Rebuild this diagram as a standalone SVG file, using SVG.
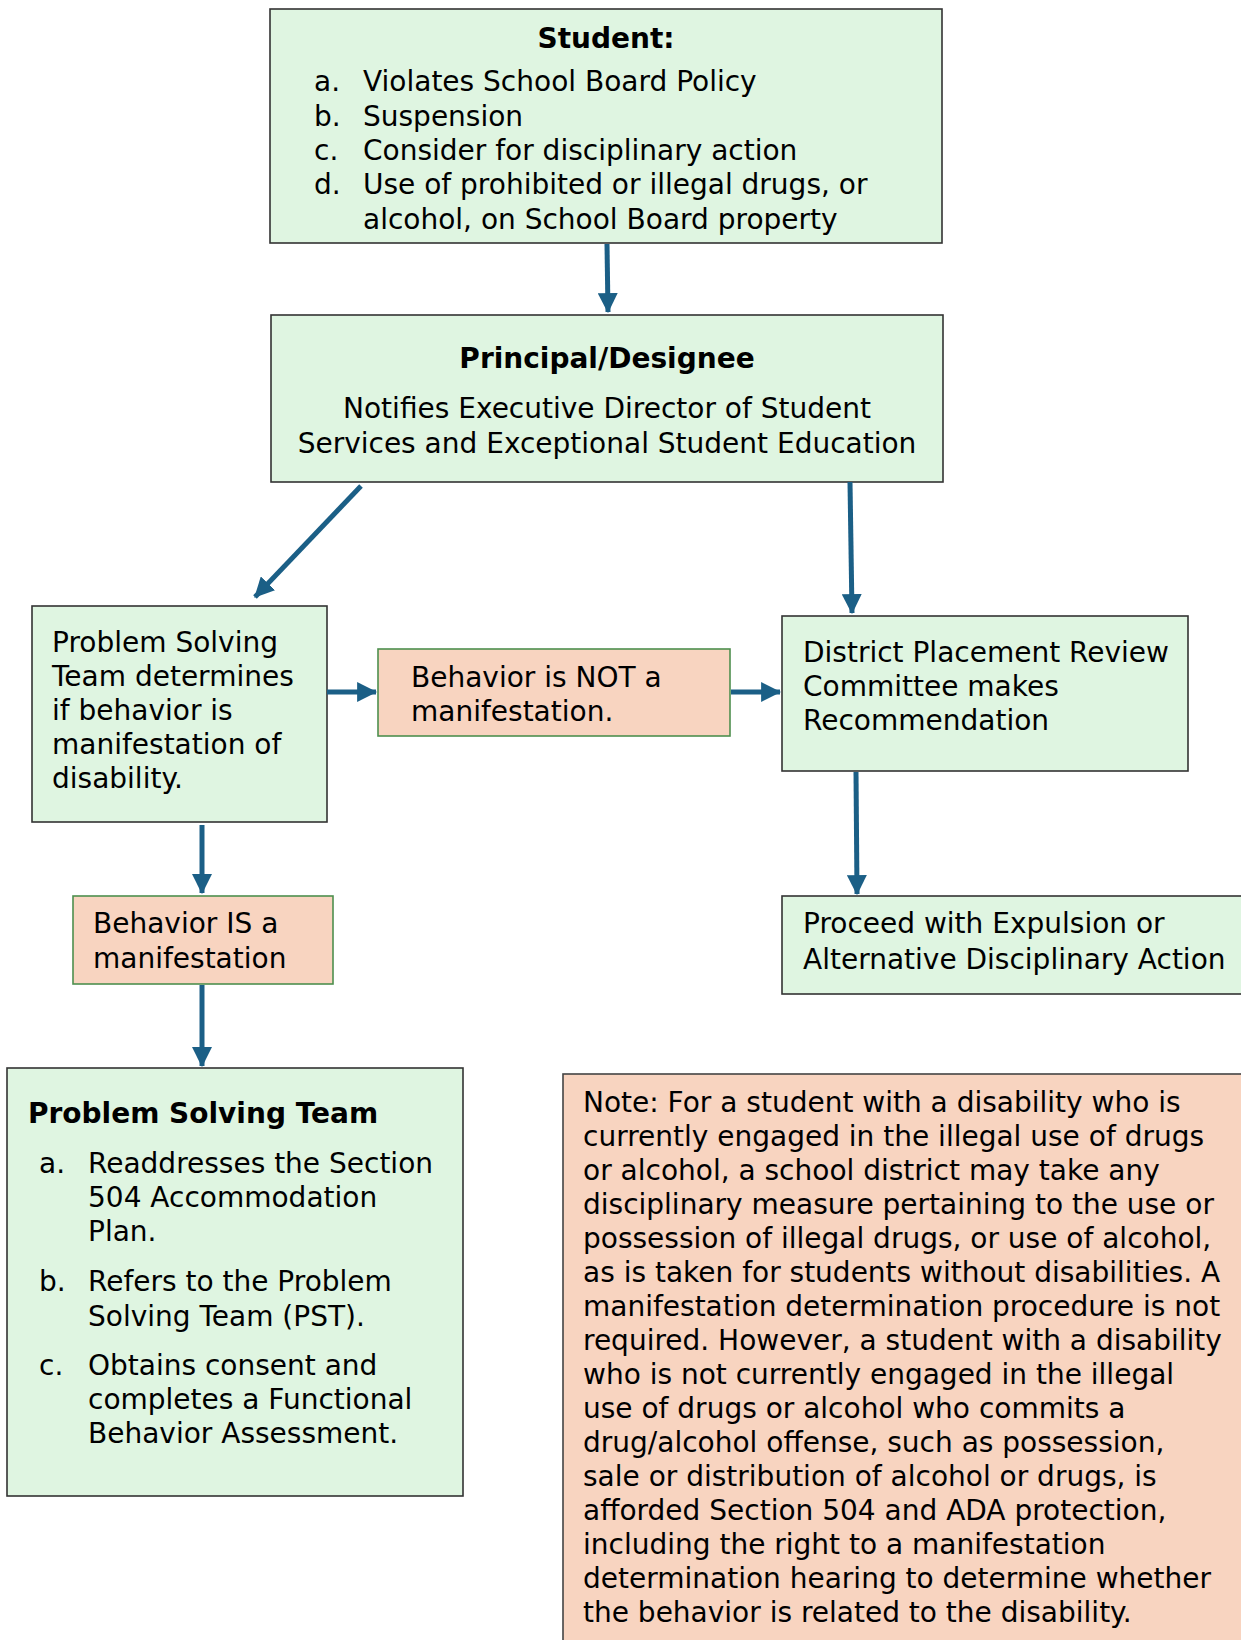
<svg xmlns="http://www.w3.org/2000/svg" width="1241" height="1640" viewBox="0 0 1241 1640">
<style>
text{font-family:"DejaVu Sans",Verdana,sans-serif;font-size:28px;fill:#000}
.b{font-weight:bold}
.g{fill:#DFF5E1;stroke:#333;stroke-width:1.6}
.p{fill:#F8D4C0;stroke:#4E8F4E;stroke-width:1.6}
.n{fill:#F8D4C0;stroke:#444;stroke-width:1.6}
.c{stroke:#1B5F86;stroke-width:5;fill:none}
</style>
<defs>
<marker id="ah" markerUnits="userSpaceOnUse" markerWidth="20" markerHeight="20" viewBox="0 0 18 18" refX="17" refY="9" orient="auto">
<path d="M0,0 L18,9 L0,18 Z" fill="#1B5F86"/>
</marker>
</defs>
<rect width="1241" height="1640" fill="#fff"/>
<g id="student">
<rect class="g" x="270" y="9" width="672" height="234"/>
<text class="b" x="606" y="48" text-anchor="middle">Student:</text>
<text x="314" y="91">a.</text><text x="363" y="91">Violates School Board Policy</text>
<text x="314" y="125.5">b.</text><text x="363" y="125.5">Suspension</text>
<text x="314" y="160">c.</text><text x="363" y="160">Consider for disciplinary action</text>
<text x="314" y="194">d.</text><text x="363" y="194">Use of prohibited or illegal drugs, or</text>
<text x="363" y="229">alcohol, on School Board property</text>
</g>
<g id="principal">
<rect class="g" x="271" y="315" width="672" height="167"/>
<text class="b" x="607" y="368" text-anchor="middle">Principal/Designee</text>
<text x="607" y="418" text-anchor="middle">Notifies Executive Director of Student</text>
<text x="607" y="453" text-anchor="middle">Services and Exceptional Student Education</text>
</g>
<g id="pst-determines">
<rect class="g" x="32" y="606" width="295" height="216"/>
<text x="52" y="652">Problem Solving</text>
<text x="52" y="686">Team determines</text>
<text x="52" y="720">if behavior is</text>
<text x="52" y="754">manifestation of</text>
<text x="52" y="788">disability.</text>
</g>
<g id="not-manifestation">
<rect class="p" x="378" y="649" width="352" height="87"/>
<text x="411" y="687">Behavior is NOT a</text>
<text x="411" y="721">manifestation.</text>
</g>
<g id="district">
<rect class="g" x="782" y="616" width="406" height="155"/>
<text x="803" y="662">District Placement Review</text>
<text x="803" y="696">Committee makes</text>
<text x="803" y="730">Recommendation</text>
</g>
<g id="is-manifestation">
<rect class="p" x="73" y="896" width="260" height="88"/>
<text x="93" y="933">Behavior IS a</text>
<text x="93" y="968">manifestation</text>
</g>
<g id="proceed">
<rect class="g" x="782" y="896" width="470" height="98"/>
<text x="803" y="933">Proceed with Expulsion or</text>
<text x="803" y="969">Alternative Disciplinary Action</text>
</g>
<g id="pst-actions">
<rect class="g" x="7" y="1068" width="456" height="428"/>
<text class="b" x="28" y="1123">Problem Solving Team</text>
<text x="39" y="1173">a.</text><text x="88" y="1173">Readdresses the Section</text>
<text x="88" y="1207">504 Accommodation</text>
<text x="88" y="1241">Plan.</text>
<text x="39" y="1291">b.</text><text x="88" y="1291">Refers to the Problem</text>
<text x="88" y="1326">Solving Team (PST).</text>
<text x="39" y="1375">c.</text><text x="88" y="1375">Obtains consent and</text>
<text x="88" y="1409">completes a Functional</text>
<text x="88" y="1443">Behavior Assessment.</text>
</g>
<g id="note">
<rect class="n" x="563" y="1074" width="690" height="580"/>
<text x="583" y="1112">Note: For a student with a disability who is</text>
<text x="583" y="1146">currently engaged in the illegal use of drugs</text>
<text x="583" y="1180">or alcohol, a school district may take any</text>
<text x="583" y="1214">disciplinary measure pertaining to the use or</text>
<text x="583" y="1248">possession of illegal drugs, or use of alcohol,</text>
<text x="583" y="1282">as is taken for students without disabilities. A</text>
<text x="583" y="1316">manifestation determination procedure is not</text>
<text x="583" y="1350">required. However, a student with a disability</text>
<text x="583" y="1384">who is not currently engaged in the illegal</text>
<text x="583" y="1418">use of drugs or alcohol who commits a</text>
<text x="583" y="1452">drug/alcohol offense, such as possession,</text>
<text x="583" y="1486">sale or distribution of alcohol or drugs, is</text>
<text x="583" y="1520">afforded Section 504 and ADA protection,</text>
<text x="583" y="1554">including the right to a manifestation</text>
<text x="583" y="1588">determination hearing to determine whether</text>
<text x="583" y="1622">the behavior is related to the disability.</text>
</g>
<g id="connectors">
<line class="c" x1="607" y1="244" x2="608" y2="312" marker-end="url(#ah)"/>
<line class="c" x1="361" y1="486" x2="255" y2="597" marker-end="url(#ah)"/>
<line class="c" x1="850" y1="482" x2="852" y2="613" marker-end="url(#ah)"/>
<line class="c" x1="327" y1="692" x2="376" y2="692" marker-end="url(#ah)"/>
<line class="c" x1="731" y1="692" x2="780" y2="692" marker-end="url(#ah)"/>
<line class="c" x1="856" y1="772" x2="857" y2="894" marker-end="url(#ah)"/>
<line class="c" x1="202" y1="825" x2="202" y2="893" marker-end="url(#ah)"/>
<line class="c" x1="202" y1="985" x2="202" y2="1066" marker-end="url(#ah)"/>
</g>
</svg>
